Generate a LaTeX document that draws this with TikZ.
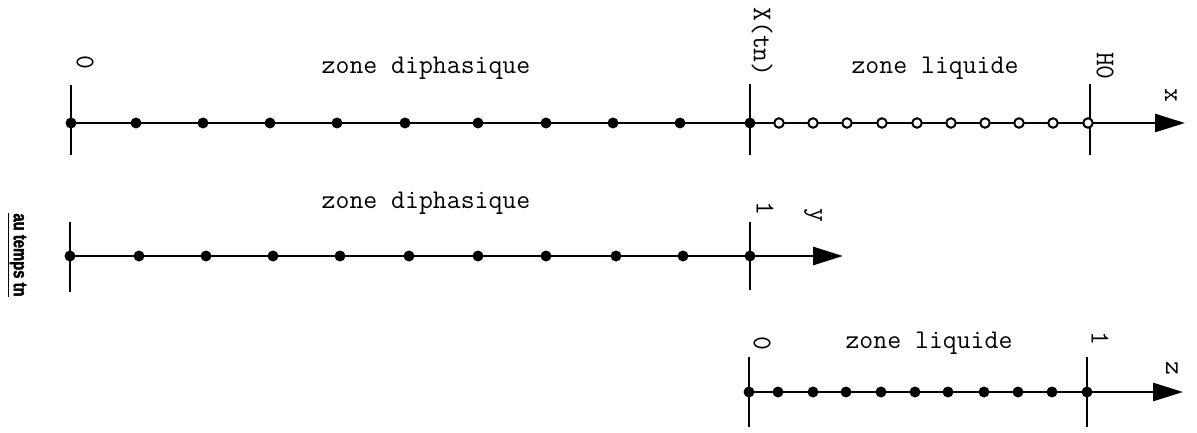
\documentclass[tikz,border=0pt]{standalone}
\usepackage{fontspec}
\newfontfamily\labfont[FakeStretch=0.78,FakeBold=2]{Liberation Sans}
\usetikzlibrary{arrows.meta}
\begin{document}
\begin{tikzpicture}[x=1pt,y=-1pt,
  axisline/.style={line width=2.8pt,-{Triangle[length=30pt,width=18pt]}},
  tickline/.style={line width=2.8pt},
  fdot/.style={circle,fill=black,inner sep=0pt,minimum size=11pt},
  odot/.style={circle,draw=black,fill=white,line width=2pt,inner sep=0pt,minimum size=9.5pt},
  lbl/.style={font=\ttfamily\fontsize{27}{30}\selectfont\addfontfeatures{FakeBold=1.5},inner sep=0pt},
  rlbl/.style={lbl,rotate=-90}]
\useasboundingbox (0,0) rectangle (1197,433);

% ---------- axis x ----------
\coordinate (xs) at (70,123);
\coordinate (xe) at (1185,123);
\draw[axisline] (xs) -- (xe);
\coordinate (t1a) at (71,85);   \coordinate (t1b) at (71,155);
\coordinate (t2a) at (750,84);  \coordinate (t2b) at (750,155);
\coordinate (t3a) at (1090,84); \coordinate (t3b) at (1090,155);
\draw[tickline] (t1a) -- (t1b);
\draw[tickline] (t2a) -- (t2b);
\draw[tickline] (t3a) -- (t3b);
\foreach \x [count=\i] in {71,136,203,270,337,405,478,546,613,680,750}
  \node[fdot] (xa\i) at (\x,123) {};
\foreach \x [count=\i] in {779,813,847,882,917,951,985,1019,1053,1088}
  \node[odot] (xb\i) at (\x,123) {};
\node[rlbl] (l0) at (85,62) {0};
\node[lbl] (zd1) at (426,68) {zone diphasique};
\node[rlbl] (lxt) at (762,42) {X(tn)};
\node[lbl] (zl1) at (935,68) {zone liquide};
\node[rlbl] (lh0) at (1105,66) {H0};
\node[rlbl] (lx) at (1171,95) {x};

% ---------- axis y ----------
\coordinate (ys) at (70,256);
\coordinate (ye) at (843,256);
\draw[axisline] (ys) -- (ye);
\coordinate (u1a) at (70,222);  \coordinate (u1b) at (70,292);
\coordinate (u2a) at (750,222); \coordinate (u2b) at (750,290);
\draw[tickline] (u1a) -- (u1b);
\draw[tickline] (u2a) -- (u2b);
\foreach \x [count=\i] in {70,139,206,273,340,409,478,546,616,683,750}
  \node[fdot] (ya\i) at (\x,256) {};
\node[lbl] (zd2) at (426,203) {zone diphasique};
\node[rlbl] (l1y) at (765,208) {1};
\node[rlbl] (ly) at (813,215) {y};
\node[rotate=-90,inner sep=0pt,font=\labfont\bfseries\fontsize{19}{21}\selectfont] (temps) at (17,255) {\underline{au temps tn}};

% ---------- axis z ----------
\coordinate (zs) at (749,392);
\coordinate (ze) at (1183,392);
\draw[axisline] (zs) -- (ze);
\coordinate (v1a) at (749,357);  \coordinate (v1b) at (749,427);
\coordinate (v2a) at (1087,357); \coordinate (v2b) at (1087,427);
\draw[tickline] (v1a) -- (v1b);
\draw[tickline] (v2a) -- (v2b);
\foreach \x [count=\i] in {749,778,813,846,881,915,948,984,1018,1052,1087}
  \node[fdot] (za\i) at (\x,392) {};
\node[rlbl] (l0z) at (762,343) {0};
\node[lbl] (zl2) at (929,343) {zone liquide};
\node[rlbl] (l1z) at (1100,338) {1};
\node[rlbl] (lz) at (1172,368) {z};
\end{tikzpicture}
\end{document}
